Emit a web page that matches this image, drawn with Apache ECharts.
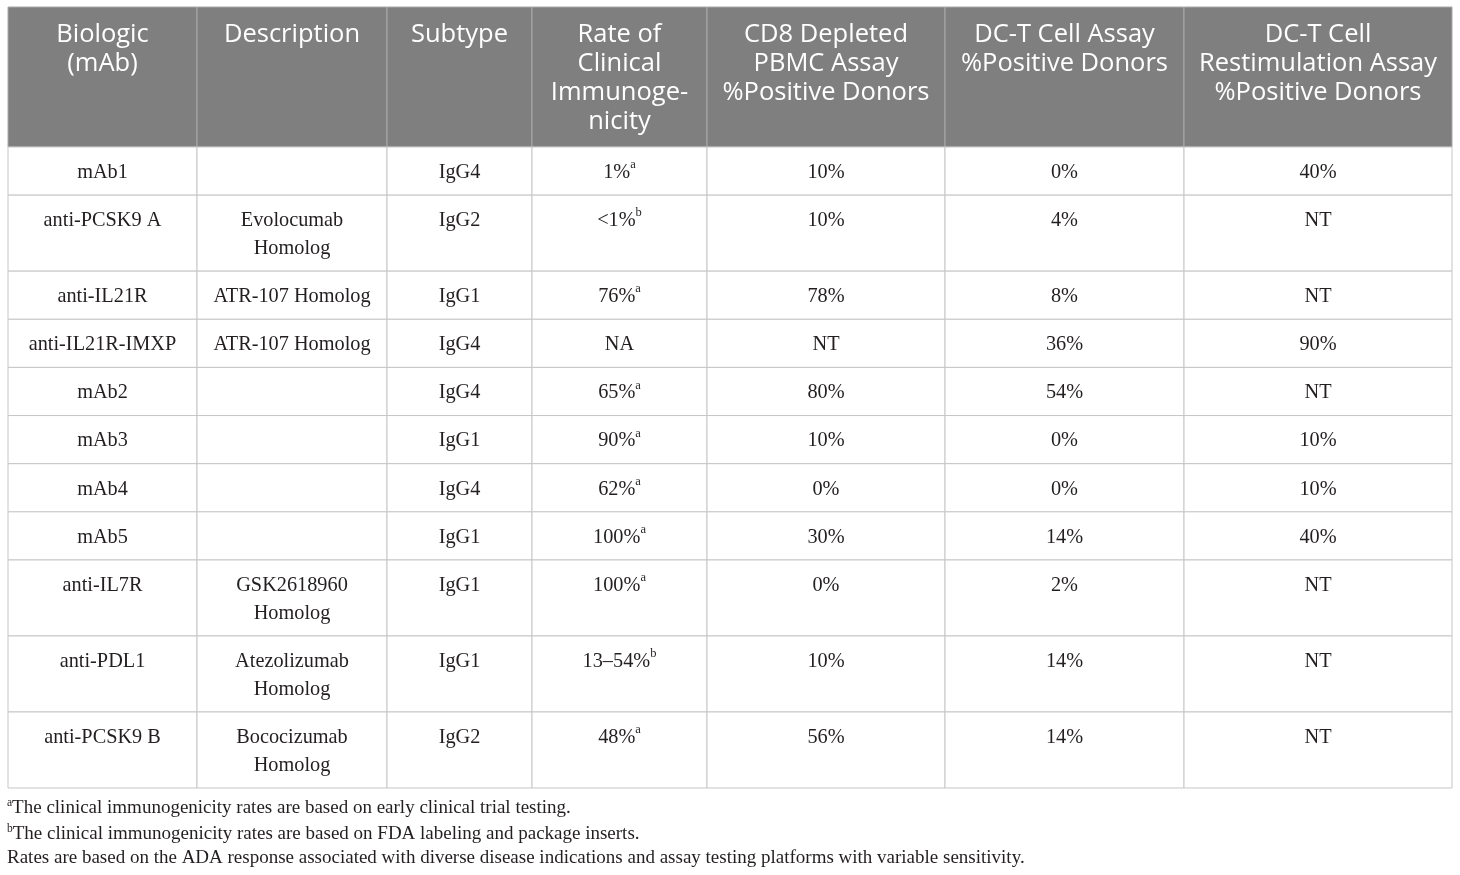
<!DOCTYPE html>
<html>
<head>
<meta charset="utf-8">
<script src="https://cdn.jsdelivr.net/npm/echarts@6/dist/echarts.min.js"></script>
<style>
html,body{margin:0;padding:0;background:#fff;}
#chart{width:1460px;height:875px;}
</style>
</head>
<body>
<div id="chart"></div>
<script>
// ---- DATA ----
const headers = [
  'Biologic\n(mAb)',
  'Description',
  'Subtype',
  'Rate of\nClinical\nImmunoge-\nnicity',
  'CD8 Depleted\nPBMC Assay\n%Positive Donors',
  'DC-T Cell Assay\n%Positive Donors',
  'DC-T Cell\nRestimulation Assay\n%Positive Donors'
];
const biologics = ['mAb1','anti-PCSK9 A','anti-IL21R','anti-IL21R-IMXP','mAb2','mAb3','mAb4','mAb5','anti-IL7R','anti-PDL1','anti-PCSK9 B'];
const descriptions = ['','Evolocumab\nHomolog','ATR-107 Homolog','ATR-107 Homolog','','','','','GSK2618960\nHomolog','Atezolizumab\nHomolog','Bococizumab\nHomolog'];
const subtypes = ['IgG4','IgG2','IgG1','IgG4','IgG4','IgG1','IgG4','IgG1','IgG1','IgG1','IgG2'];
const clinicalRates = ['1%','<1%','76%','NA','65%','90%','62%','100%','100%','13–54%','48%'];
const clinicalNotes = ['a','b','a','','a','a','a','a','a','b','a'];
const cd8Depleted = ['10%','10%','78%','NT','80%','10%','0%','30%','0%','10%','56%'];
const dcTAssay = ['0%','4%','8%','36%','54%','0%','0%','14%','2%','14%','14%'];
const dcTRestim = ['40%','NT','NT','90%','NT','10%','10%','40%','NT','NT','NT'];
const footnotes = [
  {mark:'a', text:'The clinical immunogenicity rates are based on early clinical trial testing.'},
  {mark:'b', text:'The clinical immunogenicity rates are based on FDA labeling and package inserts.'},
  {mark:'', text:'Rates are based on the ADA response associated with diverse disease indications and assay testing platforms with variable sensitivity.'}
];

// ---- LAYOUT ----
const colEdges = [0, 189, 379, 524, 699, 937, 1176, 1444];
const headerH = 140;
const singleRowH = 48.14;
const doubleRowH = 76;

const rowLines = biologics.map((b, i) => {
  const cells = [b, descriptions[i], subtypes[i], clinicalRates[i], cd8Depleted[i], dcTAssay[i], dcTRestim[i]];
  return Math.max(...cells.map(c => c.split('\n').length));
});
const rowEdges = [0, headerH];
rowLines.forEach(n => rowEdges.push(rowEdges[rowEdges.length - 1] + (n > 1 ? doubleRowH : singleRowH)));

const cells = [];
headers.forEach((h, c) => cells.push({c, r: -1, text: h, header: true}));
biologics.forEach((b, r) => {
  const vals = [b, descriptions[r], subtypes[r], clinicalRates[r], cd8Depleted[r], dcTAssay[r], dcTRestim[r]];
  vals.forEach((v, c) => cells.push({c, r, text: v, note: c === 3 ? clinicalNotes[r] : '', header: false}));
});
const cellData = cells.map(cell => {
  const y0 = cell.header ? 0 : rowEdges[cell.r + 1];
  const y1 = cell.header ? headerH : rowEdges[cell.r + 2];
  return [colEdges[cell.c], colEdges[cell.c + 1], y0, y1];
});
const totalH = rowEdges[rowEdges.length - 1];

const serif = '"Liberation Serif", "Times New Roman", serif';
const sans = '"Open Sans", Lato, sans-serif';
const ink = '#231f20';

function renderCell(params, api) {
  const cell = cells[params.dataIndex];
  const p0 = api.coord([api.value(0), api.value(2)]);
  const p1 = api.coord([api.value(1), api.value(3)]);
  const x = p0[0], y = p0[1], w = p1[0] - p0[0], h = p1[1] - p0[1];
  const children = [{
    type: 'rect',
    shape: {x, y, width: w, height: h},
    style: cell.header ? {fill: '#7f7f7f', stroke: '#a9a9a9', lineWidth: 1}
                       : {fill: '#ffffff', stroke: '#c6c6c6', lineWidth: 1}
  }];
  if (cell.text) {
    let style;
    if (cell.header) {
      style = {text: cell.text, fill: '#ffffff', fontFamily: sans, fontSize: 25.5, lineHeight: 29,
               align: 'center', verticalAlign: 'top'};
      children.push({type: 'text', x: x + w / 2, y: y + 13.5, style});
    } else {
      const t = cell.note ? '{v|' + cell.text + '}{s|' + cell.note + '}' : cell.text;
      style = {text: t, fill: ink, fontFamily: serif, fontSize: 20.3, lineHeight: 28,
               align: 'center', verticalAlign: 'top',
               rich: {
                 v: {fontFamily: serif, fontSize: 20.3, lineHeight: 28, fill: ink},
                 s: {fontFamily: serif, fontSize: 12.5, lineHeight: 15, verticalAlign: 'top', fill: ink}
               }};
      children.push({type: 'text', x: x + w / 2, y: y + 11.5, style});
    }
  }
  return {type: 'group', children};
}

const footGraphics = footnotes.map((f, i) => ({
  type: 'text',
  left: 7,
  top: 797 + i * 26,
  style: {
    text: (f.mark ? '{s|' + f.mark + '}' : '') + '{v|' + f.text + '}',
    fill: ink,
    rich: {
      v: {fontFamily: serif, fontSize: 19, lineHeight: 22, fill: ink},
      s: {fontFamily: serif, fontSize: 11.5, lineHeight: 13, verticalAlign: 'top', fill: ink}
    }
  }
}));

const chart = echarts.init(document.getElementById('chart'), null, {renderer: 'canvas'});
chart.setOption({
  animation: false,
  backgroundColor: '#ffffff',
  grid: {left: 8, top: 7, width: 1444, height: totalH},
  xAxis: {type: 'value', min: 0, max: 1444, show: false},
  yAxis: {type: 'value', min: 0, max: totalH, inverse: true, show: false},
  series: [{
    type: 'custom',
    coordinateSystem: 'cartesian2d',
    renderItem: renderCell,
    data: cellData,
    encode: {x: [0, 1], y: [2, 3]},
    clip: false,
    silent: true
  }],
  graphic: footGraphics
});
</script>
</body>
</html>
